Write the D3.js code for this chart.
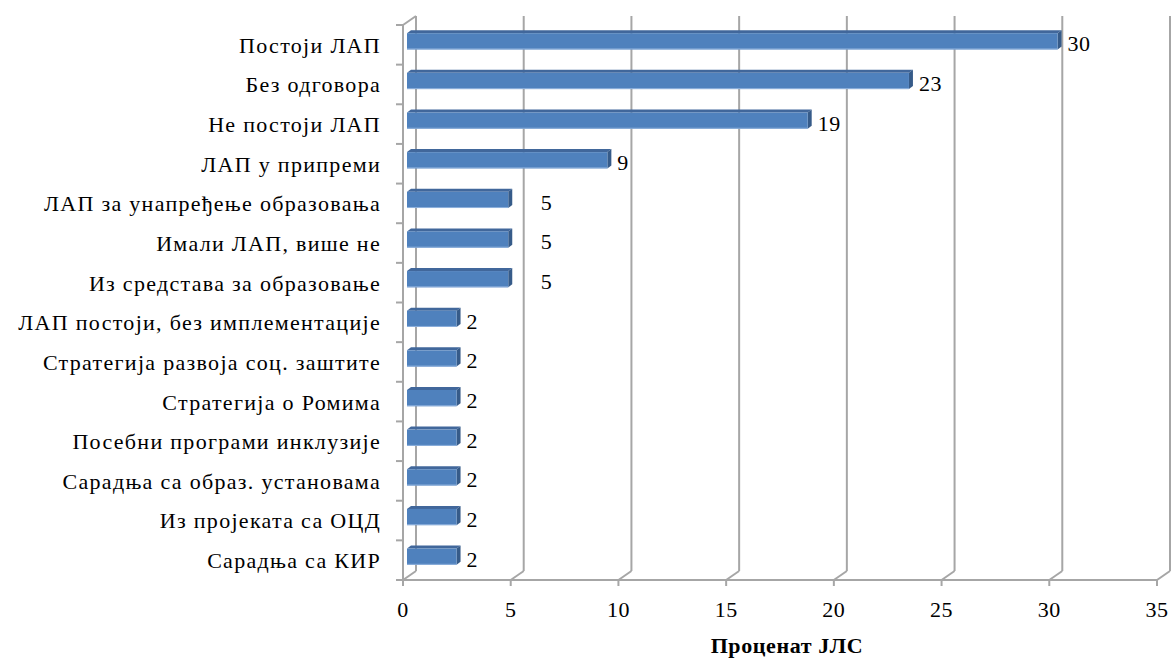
<!DOCTYPE html>
<html>
<head>
<meta charset="utf-8">
<script src="https://cdn.jsdelivr.net/npm/d3@7"></script>
<style>
  body { margin: 0; background: #fff; }
</style>
</head>
<body>
<svg id="chart" width="1172" height="658"></svg>
<script>
// categories, top to bottom
var categories = [
    "Постоји ЛАП",
    "Без одговора",
    "Не постоји ЛАП",
    "ЛАП у припреми",
    "ЛАП за унапређење образовања",
    "Имали ЛАП, више не",
    "Из средстава за образовање",
    "ЛАП постоји, без имплементације",
    "Стратегија развоја соц. заштите",
    "Стратегија о Ромима",
    "Посебни програми инклузије",
    "Сарадња са образ. установама",
    "Из пројеката са ОЦД",
    "Сарадња са КИР"
];
// percentage of JLS (bar lengths) and the rounded labels shown
var values = [30.2, 23.3, 18.6, 9.3, 4.7, 4.7, 4.7, 2.3, 2.3, 2.3, 2.3, 2.3, 2.3, 2.3];
var valueLabels = ["30", "23", "19", "9", "5", "5", "5", "2", "2", "2", "2", "2", "2", "2"];
var ticks = [0, 5, 10, 15, 20, 25, 30, 35];
var axisTitle = "Проценат  ЈЛС";

// serif only renders at 22px or smaller here; widen with letter spacing instead
var FONT = '"Liberation Serif", "Times New Roman"';
var FS = 22;
var svg = d3.select("#chart");

function label(sel, spacing) {
    return sel.style("font-family", FONT)
        .style("font-size", FS + "px")
        .style("letter-spacing", spacing + "px");
}

// depth offset of the 3D box
var DX = 13, DY = -9;
var floorY = 580, topY = 25;

var x = d3.scaleLinear().domain([0, 35]).range([403, 1157]);
var y = d3.scaleBand().domain(categories).range([topY, floorY]);

var gridColor = "#a6a6a6";

// back wall gridlines
svg.append("g").selectAll("line")
    .data(ticks)
    .enter().append("line")
    .attr("x1", d => x(d) + DX).attr("x2", d => x(d) + DX)
    .attr("y1", topY + DY).attr("y2", floorY + DY)
    .attr("stroke", gridColor).attr("stroke-width", 2);

// floor diagonals
svg.append("g").selectAll("line")
    .data(ticks)
    .enter().append("line")
    .attr("x1", d => x(d)).attr("x2", d => x(d) + DX)
    .attr("y1", floorY).attr("y2", floorY + DY)
    .attr("stroke", gridColor).attr("stroke-width", 2);

// front floor line and ticks
svg.append("line")
    .attr("x1", x(0)).attr("x2", x(35))
    .attr("y1", floorY).attr("y2", floorY)
    .attr("stroke", gridColor).attr("stroke-width", 2);
svg.append("g").selectAll("line")
    .data(ticks)
    .enter().append("line")
    .attr("x1", d => x(d)).attr("x2", d => x(d))
    .attr("y1", floorY).attr("y2", floorY + 6)
    .attr("stroke", gridColor).attr("stroke-width", 2);

// left axis (front edge of the side wall)
svg.append("line")
    .attr("x1", x(0)).attr("x2", x(0))
    .attr("y1", topY).attr("y2", floorY)
    .attr("stroke", gridColor).attr("stroke-width", 2);
svg.append("line")
    .attr("x1", x(0)).attr("x2", x(0) + DX)
    .attr("y1", topY).attr("y2", topY + DY)
    .attr("stroke", gridColor).attr("stroke-width", 2);
svg.append("g").selectAll("line")
    .data(d3.range(categories.length + 1))
    .enter().append("line")
    .attr("x1", x(0) - 7).attr("x2", x(0))
    .attr("y1", i => topY + i * y.step()).attr("y2", i => topY + i * y.step())
    .attr("stroke", gridColor).attr("stroke-width", 2);

// tick labels
svg.append("g").selectAll("text")
    .data(ticks)
    .enter().append("text")
    .attr("x", d => x(d)).attr("y", 617)
    .attr("text-anchor", "middle")
    .call(label, 0.5)
    .text(d => d);

// category labels
svg.append("g").selectAll("text")
    .data(categories)
    .enter().append("text")
    .attr("x", 381)
    .attr("y", d => y(d) + y.bandwidth() / 2)
    .attr("dy", "0.36em")
    .attr("text-anchor", "end")
    .call(label, 1.3)
    .text(d => d);

// bars
var fx = 4, fy = -3.5;   // front face offset
var bx = 8, by = -6.5;   // back face offset
var barH = y.bandwidth() * 0.41;

var bars = svg.append("g").selectAll("g")
    .data(values.map((v, i) => ({ v: v, cat: categories[i], label: valueLabels[i] })))
    .enter().append("g");

function barGeom(d) {
    var x0 = x(0) + fx, x1 = x(d.v) + fx;
    var y0 = y(d.cat) + (y.bandwidth() - barH) / 2 + fy;
    return { x0: x0, x1: x1, y0: y0, y1: y0 + barH };
}

// top face
bars.append("path")
    .attr("d", d => {
        var g = barGeom(d), ddx = bx - fx, ddy = by - fy;
        return `M${g.x0},${g.y0}L${g.x0 + ddx},${g.y0 + ddy}L${g.x1 + ddx},${g.y0 + ddy}L${g.x1},${g.y0}Z`;
    })
    .attr("fill", "#41679b");
// right side face
bars.append("path")
    .attr("d", d => {
        var g = barGeom(d), ddx = bx - fx, ddy = by - fy;
        return `M${g.x1},${g.y0}L${g.x1 + ddx},${g.y0 + ddy}L${g.x1 + ddx},${g.y1 + ddy}L${g.x1},${g.y1}Z`;
    })
    .attr("fill", "#365b89");
// front face
bars.append("rect")
    .attr("x", d => barGeom(d).x0)
    .attr("y", d => barGeom(d).y0)
    .attr("width", d => barGeom(d).x1 - barGeom(d).x0)
    .attr("height", barH)
    .attr("fill", "#4f81bd");
// light lower edge
bars.append("line")
    .attr("x1", d => barGeom(d).x0).attr("x2", d => barGeom(d).x1)
    .attr("y1", d => barGeom(d).y1 - 0.5).attr("y2", d => barGeom(d).y1 - 0.5)
    .attr("stroke", "#8eb0dc").attr("stroke-width", 1);

// value labels, pushed past a gridline if they would sit on it
function labelX(d) {
    var lx = x(d.v) + bx + 6;
    ticks.forEach(t => {
        var gx = x(t) + DX;
        if (lx > gx - 8 && lx < gx + 4) lx = gx + 17;
    });
    return lx;
}
bars.append("text")
    .attr("x", labelX)
    .attr("y", d => barGeom(d).y0 + barH / 2 + 2)
    .attr("dy", "0.36em")
    .call(label, 0.5)
    .text(d => d.label);

// axis title
svg.append("text")
    .attr("x", 787).attr("y", 653)
    .attr("text-anchor", "middle")
    .style("font-family", FONT)
    .style("font-size", "22px")
    .style("font-weight", "bold")
    .style("letter-spacing", "0.6px")
    .text(axisTitle);
</script>
</body>
</html>
